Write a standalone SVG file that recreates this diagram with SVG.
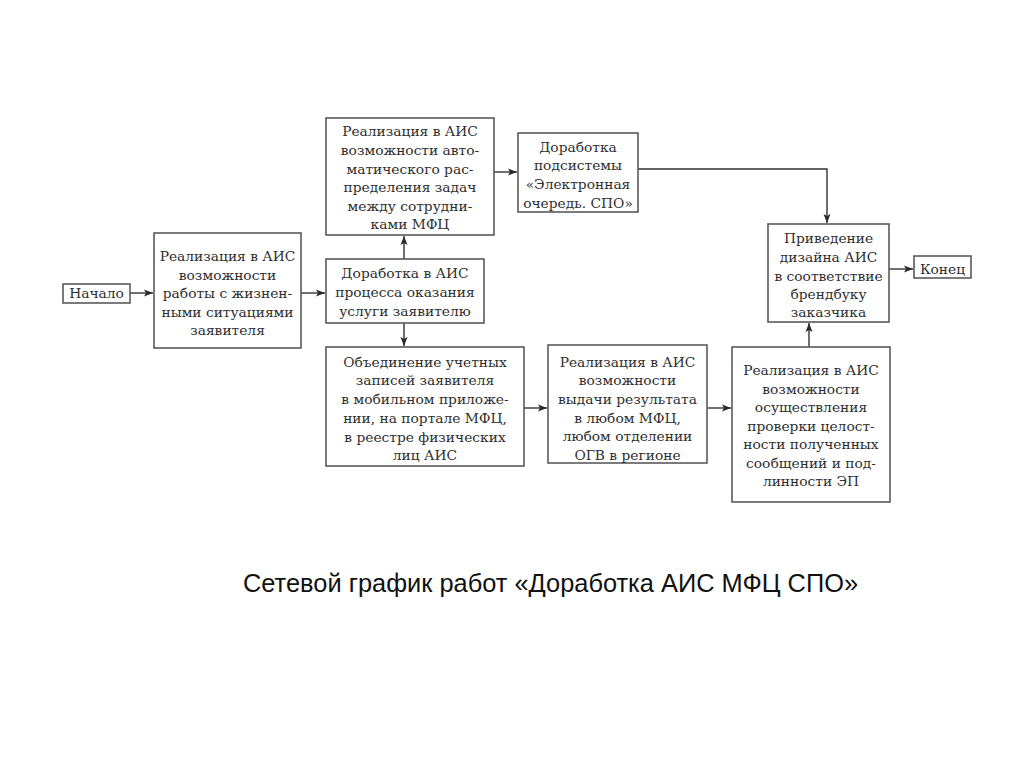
<svg xmlns="http://www.w3.org/2000/svg" width="1024" height="767" viewBox="0 0 1024 767">
<defs>
<marker id="arr" markerWidth="10" markerHeight="8" refX="9" refY="4" orient="auto" markerUnits="userSpaceOnUse">
<path d="M0,0.5 L9,4 L0,7.5 L2,4 Z" fill="#2a2a2a"/>
</marker>
</defs>
<style>
.box{fill:#ffffff;stroke:#5a5a5a;stroke-width:1.6}
.t{font-family:"DejaVu Serif","Liberation Serif",serif;font-size:13.8px;fill:#2e2e2e;text-anchor:middle}
.c{fill:none;stroke:#333333;stroke-width:1.4}
.cap{font-family:"Liberation Sans",Arial,sans-serif;font-size:25px;fill:#111111}
</style>
<rect x="0" y="0" width="1024" height="767" fill="#ffffff"/>
<g id="connectors">
<line class="c" x1="130" y1="293" x2="153" y2="293" marker-end="url(#arr)"/>
<line class="c" x1="301" y1="293" x2="325" y2="293" marker-end="url(#arr)"/>
<line class="c" x1="404" y1="259" x2="404" y2="236" marker-end="url(#arr)"/>
<line class="c" x1="404" y1="323" x2="404" y2="346" marker-end="url(#arr)"/>
<line class="c" x1="494" y1="172" x2="517" y2="172" marker-end="url(#arr)"/>
<polyline class="c" points="638,169 827,169 827,223" marker-end="url(#arr)"/>
<line class="c" x1="889" y1="269" x2="913" y2="269" marker-end="url(#arr)"/>
<line class="c" x1="524" y1="408" x2="547" y2="408" marker-end="url(#arr)"/>
<line class="c" x1="707" y1="408" x2="731" y2="408" marker-end="url(#arr)"/>
<line class="c" x1="809" y1="347" x2="809" y2="323" marker-end="url(#arr)"/>
</g>
<g id="start">
<rect class="box" x="63" y="284" width="67" height="19"/>
<text class="t" x="96.5" y="298">Начало</text>
</g>
<g id="n1">
<rect class="box" x="154" y="233" width="147" height="115"/>
<text class="t" x="227.5" y="261">Реализация в АИС</text>
<text class="t" x="227.5" y="279.5">возможности</text>
<text class="t" x="227.5" y="298">работы с жизнен-</text>
<text class="t" x="227.5" y="316.5">ными ситуациями</text>
<text class="t" x="227.5" y="335">заявителя</text>
</g>
<g id="n2">
<rect class="box" x="326" y="259" width="158" height="64"/>
<text class="t" x="405" y="278">Доработка в АИС</text>
<text class="t" x="405" y="297">процесса оказания</text>
<text class="t" x="405" y="316">услуги заявителю</text>
</g>
<g id="n3">
<rect class="box" x="326" y="118" width="168" height="117"/>
<text class="t" x="410" y="136">Реализация в АИС</text>
<text class="t" x="410" y="155">возможности авто-</text>
<text class="t" x="410" y="173.5">матического рас-</text>
<text class="t" x="410" y="192">пределения задач</text>
<text class="t" x="410" y="210.5">между сотрудни-</text>
<text class="t" x="410" y="229">ками МФЦ</text>
</g>
<g id="n4">
<rect class="box" x="518" y="133" width="120" height="79"/>
<text class="t" x="578" y="152">Доработка</text>
<text class="t" x="578" y="170">подсистемы</text>
<text class="t" x="578" y="189">«Электронная</text>
<text class="t" x="578" y="208">очередь. СПО»</text>
</g>
<g id="n5">
<rect class="box" x="768" y="224" width="121" height="98"/>
<text class="t" x="828.5" y="243">Приведение</text>
<text class="t" x="828.5" y="262">дизайна АИС</text>
<text class="t" x="828.5" y="281">в соответствие</text>
<text class="t" x="828.5" y="299">брендбуку</text>
<text class="t" x="828.5" y="317">заказчика</text>
</g>
<g id="end">
<rect class="box" x="914" y="256" width="57" height="22"/>
<text class="t" x="942.5" y="274">Конец</text>
</g>
<g id="n6">
<rect class="box" x="326" y="347" width="198" height="119"/>
<text class="t" x="425" y="367">Объединение учетных</text>
<text class="t" x="425" y="385">записей заявителя</text>
<text class="t" x="425" y="404">в мобильном приложе-</text>
<text class="t" x="425" y="423">нии, на портале МФЦ,</text>
<text class="t" x="425" y="442">в реестре физических</text>
<text class="t" x="425" y="460">лиц АИС</text>
</g>
<g id="n7">
<rect class="box" x="548" y="345" width="159" height="118"/>
<text class="t" x="627.5" y="367">Реализация в АИС</text>
<text class="t" x="627.5" y="385">возможности</text>
<text class="t" x="627.5" y="404">выдачи результата</text>
<text class="t" x="627.5" y="423">в любом МФЦ,</text>
<text class="t" x="627.5" y="441">любом отделении</text>
<text class="t" x="627.5" y="460">ОГВ в регионе</text>
</g>
<g id="n8">
<rect class="box" x="732" y="347" width="158" height="155"/>
<text class="t" x="811" y="375">Реализация в АИС</text>
<text class="t" x="811" y="393.5">возможности</text>
<text class="t" x="811" y="412">осуществления</text>
<text class="t" x="811" y="430.5">проверки целост-</text>
<text class="t" x="811" y="449">ности полученных</text>
<text class="t" x="811" y="467.5">сообщений и под-</text>
<text class="t" x="811" y="486">линности ЭП</text>
</g>
<text class="cap" x="243" y="592" textLength="615" lengthAdjust="spacingAndGlyphs">Сетевой график работ «Доработка АИС МФЦ СПО»</text>
</svg>
